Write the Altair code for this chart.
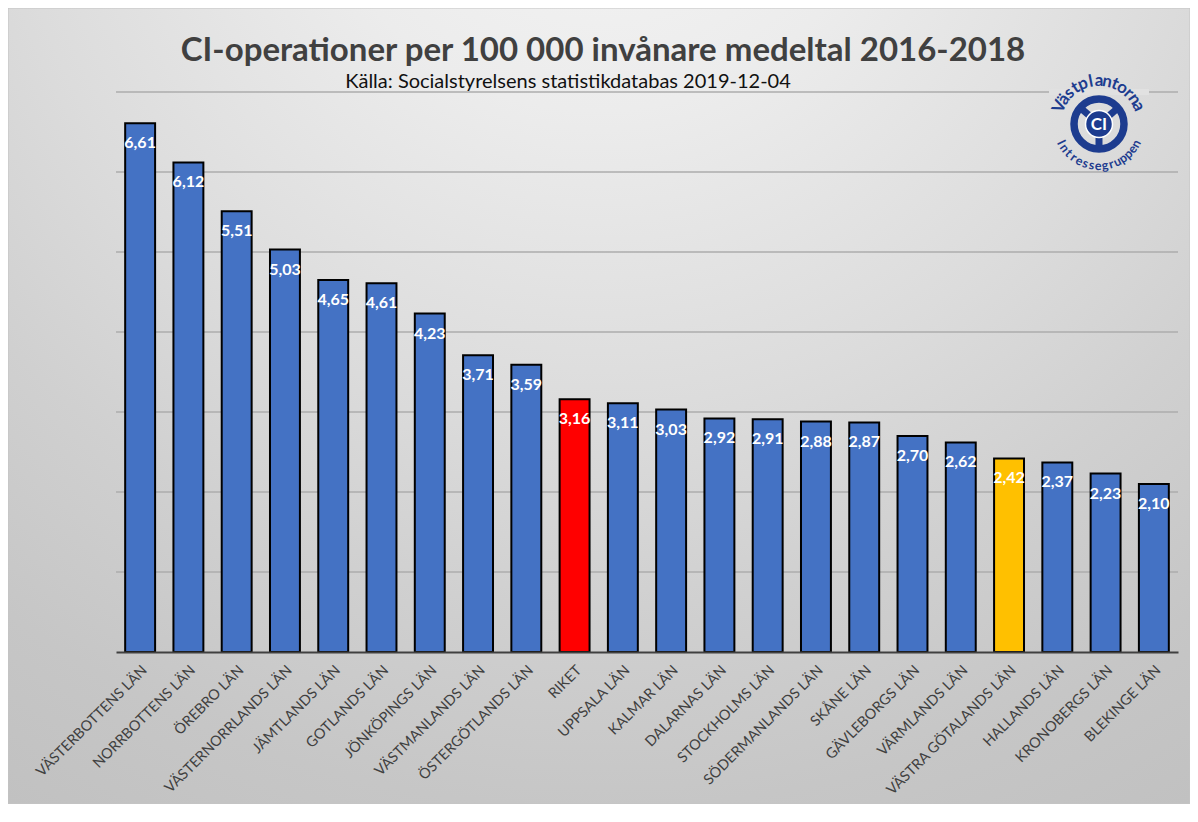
import math
import altair as alt
import pandas as pd

# ---------------- data ----------------
regions = [
    "VÄSTERBOTTENS LÄN", "NORRBOTTENS LÄN", "ÖREBRO LÄN", "VÄSTERNORRLANDS LÄN",
    "JÄMTLANDS LÄN", "GOTLANDS LÄN", "JÖNKÖPINGS LÄN", "VÄSTMANLANDS LÄN",
    "ÖSTERGÖTLANDS LÄN", "RIKET", "UPPSALA LÄN", "KALMAR LÄN", "DALARNAS LÄN",
    "STOCKHOLMS LÄN", "SÖDERMANLANDS LÄN", "SKÅNE LÄN", "GÄVLEBORGS LÄN",
    "VÄRMLANDS LÄN", "VÄSTRA GÖTALANDS LÄN", "HALLANDS LÄN", "KRONOBERGS LÄN",
    "BLEKINGE LÄN",
]
values = [6.61, 6.12, 5.51, 5.03, 4.65, 4.61, 4.23, 3.71, 3.59, 3.16, 3.11,
          3.03, 2.92, 2.91, 2.88, 2.87, 2.70, 2.62, 2.42, 2.37, 2.23, 2.10]
highlight = {"RIKET": "riket", "VÄSTRA GÖTALANDS LÄN": "vg"}
grid_values = [1, 2, 3, 4, 5, 6, 7]

TITLE = "CI-operationer per 100 000 invånare medeltal 2016-2018"
SUBTITLE = "Källa: Socialstyrelsens statistikdatabas 2019-12-04"
LOGO_TOP = "Västplantorna"
LOGO_BOTTOM = "Intressegruppen"
LOGO_CENTER = "CI"

# ---------------- layout / style ----------------
W, H = 1062, 560
PAD = {"left": 108, "top": 84, "right": 12, "bottom": 152}
FONT = "Lato"
NAVY = "#1d3c8f"

df = pd.DataFrame({"region": regions, "value": values})
df["group"] = [highlight.get(r, "county") for r in regions]
df["label"] = [f"{v:.2f}".replace(".", ",") for v in values]

x_enc = alt.X(
    "region:N", sort=None,
    scale=alt.Scale(paddingInner=0.38, paddingOuter=0.19),
    axis=alt.Axis(title=None, labelAngle=-45, labelFont=FONT, labelFontSize=14.5,
                  labelColor="#404040", domainColor="#404040", domainWidth=2,
                  ticks=False, labelPadding=11, labelOverlap=False, labelLimit=0,
                  zindex=1),
)
y_scale = alt.Scale(domain=[0, 7], nice=False, zero=True)

# background gradient
stops_def = [(0.0, (246, 246, 246)), (0.25, (236, 236, 236)), (0.5, (220, 220, 220)),
             (0.67, (208, 208, 208)), (0.84, (198, 198, 198)), (1.0, (192, 192, 192))]
hexc = lambda c: "#%02x%02x%02x" % c
bg_w = W + PAD["left"] + PAD["right"]
bg_h = H + PAD["top"] + PAD["bottom"]
bg = alt.Chart(alt.Data(values=[{}])).mark_rect(
    fill=alt.RadialGradient(
        gradient="radial", x1=0.5, y1=0, r1=0, x2=0.5, y2=0, r2=1,
        stops=[alt.GradientStop(offset=o, color=hexc(c)) for o, c in stops_def]),
    stroke="#c4c4c4", strokeWidth=1,
).encode(x=alt.value(-PAD["left"]), x2=alt.value(W + PAD["right"]),
         y=alt.value(-PAD["top"]), y2=alt.value(H + PAD["bottom"]))


def grad_color(px, py):
    d = math.hypot(px - (bg_w / 2 - PAD["left"]), py + PAD["top"]) / max(bg_w, bg_h)
    for (o0, c0), (o1, c1) in zip(stops_def, stops_def[1:]):
        if d <= o1:
            t = (d - o0) / (o1 - o0)
            return hexc(tuple(round(a + (b - a) * t) for a, b in zip(c0, c1)))
    return hexc(stops_def[-1][1])


grid = alt.Chart(pd.DataFrame({"g": grid_values})).mark_rule(
    color="#adadad", strokeWidth=1.3
).encode(y=alt.Y("g:Q", scale=y_scale, axis=None), x=alt.value(0), x2=alt.value(W))

bars = alt.Chart(df).mark_bar(stroke="black", strokeWidth=2).encode(
    x=x_enc,
    y=alt.Y("value:Q", scale=y_scale, axis=None),
    color=alt.Color("group:N", legend=None,
                    scale=alt.Scale(domain=["county", "riket", "vg"],
                                    range=["#4472C4", "#FF0000", "#FFC000"])),
)
labels = alt.Chart(df).mark_text(
    color="white", font=FONT, fontWeight="bold", fontSize=16, baseline="middle", dy=20
).encode(x=x_enc, y=alt.Y("value:Q", scale=y_scale, axis=None), text="label:N")

title = alt.Chart(alt.Data(values=[{}])).mark_text(
    text=TITLE, font=FONT, fontSize=33, fontWeight="bold", color="#404040",
    align="center", baseline="alphabetic"
).encode(x=alt.value(487), y=alt.value(-31))
subtitle = alt.Chart(alt.Data(values=[{}])).mark_text(
    text=SUBTITLE, font=FONT, fontSize=20, color="#111111",
    align="center", baseline="alphabetic"
).encode(x=alt.value(452), y=alt.value(-4))

# ---------------- logo ----------------
CX, CY = 983, 32
mask = alt.Chart(alt.Data(values=[{}])).mark_rect(fill=grad_color(CX, 0)).encode(
    x=alt.value(CX - 50), x2=alt.value(CX + 50), y=alt.value(-3), y2=alt.value(3))

ring = alt.Chart(alt.Data(values=[{}])).mark_point(
    shape="circle", filled=False, size=50 ** 2, stroke=NAVY, strokeWidth=7.5, opacity=1
).encode(x=alt.value(CX), y=alt.value(CY))

spoke_angles = [139, 40, 270]
spokes_df = pd.DataFrame({
    "sx": [CX + 10 * math.cos(math.radians(a)) for a in spoke_angles],
    "sy": [CY - 10 * math.sin(math.radians(a)) for a in spoke_angles],
    "sx2": [CX + 25 * math.cos(math.radians(a)) for a in spoke_angles],
    "sy2": [CY - 25 * math.sin(math.radians(a)) for a in spoke_angles],
})
spokes = alt.Chart(spokes_df).mark_rule(color=NAVY, strokeWidth=7).encode(
    x=alt.X("sx:Q", scale=None, axis=None), y=alt.Y("sy:Q", scale=None, axis=None),
    x2="sx2:Q", y2="sy2:Q")

hub = alt.Chart(alt.Data(values=[{}])).mark_point(
    shape="circle", filled=True, size=27 ** 2, fill=NAVY, stroke="white",
    strokeWidth=1.5, opacity=1
).encode(x=alt.value(CX), y=alt.value(CY))
hub_text = alt.Chart(alt.Data(values=[{}])).mark_text(
    text=LOGO_CENTER, font=FONT, fontWeight="bold", fontSize=17, color="white",
    align="center", baseline="middle"
).encode(x=alt.value(CX), y=alt.value(CY + 1))


def arc_letters(text, a0, a1, r, top):
    n = len(text)
    rows = []
    for i, ch in enumerate(text):
        a = a0 + (a1 - a0) * i / (n - 1)
        rad = math.radians(a)
        rot = (90 - a) % 360 if top else (270 - a) % 360
        rows.append({"lx": CX + r * math.cos(rad), "ly": CY - r * math.sin(rad),
                     "ang": rot, "ch": ch})
    return pd.DataFrame(rows)


top_df = arc_letters(LOGO_TOP, 156, 24, 43, True)
bot_df = arc_letters(LOGO_BOTTOM, 206, 332, 42, False)


def letter_layer(d, size):
    return alt.Chart(d).mark_text(
        font=FONT, fontWeight="bold", fontSize=size, color=NAVY,
        align="center", baseline="middle"
    ).encode(x=alt.X("lx:Q", scale=None, axis=None),
             y=alt.Y("ly:Q", scale=None, axis=None),
             angle=alt.Angle("ang:Q", scale=None), text="ch:N")


chart = alt.layer(
    bg, grid, mask, bars, labels, title, subtitle,
    ring, spokes, hub, hub_text, letter_layer(top_df, 17), letter_layer(bot_df, 12.5),
).properties(
    width=W, height=H, padding=PAD, autosize=alt.AutoSizeParams(type="none"),
    background="white",
).configure_view(stroke=None)

chart.save("out.html", embed_options={"renderer": "svg", "actions": False})
